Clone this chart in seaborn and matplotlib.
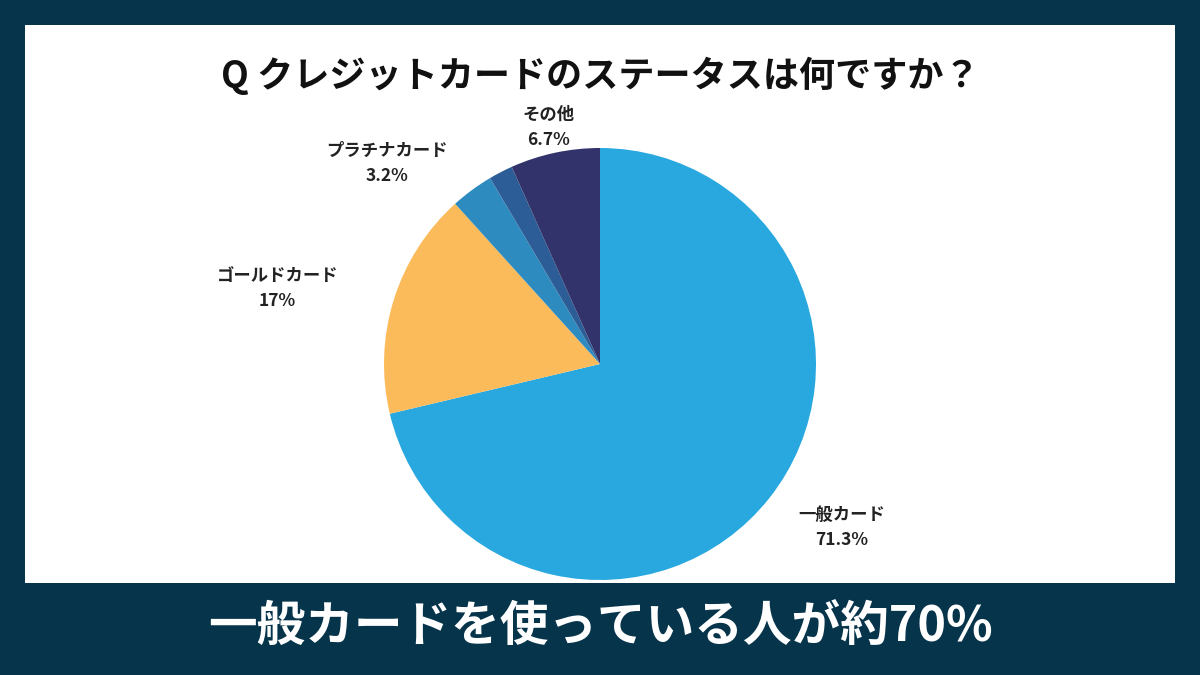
import numpy as np
import matplotlib
matplotlib.use("Agg")
import matplotlib.pyplot as plt
import seaborn as sns

# data
categories = ["一般カード", "ゴールドカード", "プラチナカード", "", "その他"]
shares = [71.3, 17.0, 3.2, 1.8, 6.7]
share_labels = ["71.3%", "17%", "3.2%", "", "6.7%"]
title = "Q クレジットカードのステータスは何ですか？"
caption = "一般カードを使っている人が約70%"

colors = ["#29a8e0", "#fcbb5a", "#2e8bc0", "#2d5d96", "#33336b"]
label_dist = [1.17, 1.27, 1.19, 1.2, 1.15]
label_ha = ["left", "right", "right", "center", "center"]

sns.set_theme(style="white")
plt.rcParams["font.family"] = ["Noto Sans CJK JP", "DejaVu Sans"]

W, H = 1200, 675
fig = plt.figure(figsize=(12, 6.75), dpi=100)
fig.patch.set_facecolor("#06344a")

# white panel
panel = fig.add_axes([25 / W, 1 - 583 / H, 1150 / W, 558 / H])
panel.set_facecolor("white")
panel.set_xticks([]); panel.set_yticks([])
for s in panel.spines.values():
    s.set_visible(False)

# pie
cx, cy, r = 600, 364, 216
ax = fig.add_axes([(cx - r) / W, 1 - (cy + r) / H, 2 * r / W, 2 * r / H])
wedges, _ = ax.pie(shares, colors=colors, startangle=90, counterclock=False,
                   radius=1, wedgeprops=dict(linewidth=0))
ax.set_xlim(-1, 1); ax.set_ylim(-1, 1)
ax.set_aspect("equal")
ax.axis("off")

for w, cat, pct, d, ha in zip(wedges, categories, share_labels, label_dist, label_ha):
    if not cat:
        continue
    ang = np.deg2rad((w.theta1 + w.theta2) / 2)
    ax.text(d * np.cos(ang), d * np.sin(ang) - 0.03, f"{cat}\n{pct}", ha=ha, va="center",
            multialignment="center", fontsize=12.5, fontweight="bold",
            color="#222222", linespacing=1.5, clip_on=False)

fig.text(0.5, 1 - 76 / H, title, ha="center", va="center", fontsize=26,
         fontweight="bold", color="#111111")
fig.text(0.5, 1 - 627 / H, caption, ha="center", va="center", fontsize=35,
         fontweight="bold", color="white")

fig.savefig("out.png", dpi=100, facecolor=fig.get_facecolor())
